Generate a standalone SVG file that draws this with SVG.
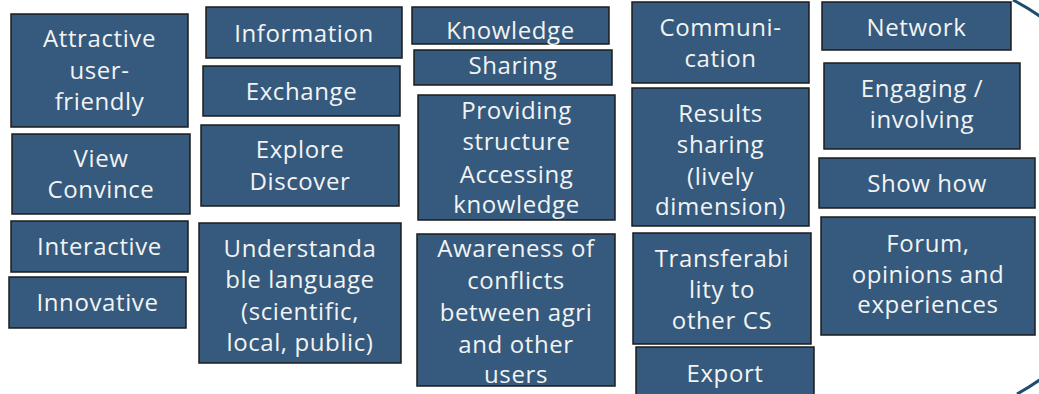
<svg xmlns="http://www.w3.org/2000/svg" width="1039" height="394" viewBox="0 0 1039 394">
<style>
.box{fill:#355a7d;stroke:#1c1c1c;stroke-width:1.5}
.t{font-family:"Open Sans","Liberation Sans",sans-serif;font-size:24px;letter-spacing:0.6px;fill:#f3f3f3;text-anchor:middle}
.arc{fill:none;stroke:#1d4e6e;stroke-width:3}
</style>
<rect width="1039" height="394" fill="#ffffff"/>
<g id="decor">
<path class="arc" d="M 1013 0 A 223 223 0 0 1 1017 394"/>
</g>
<g id="connectors"></g>
<g id="n-attractive"><rect class="box" x="11" y="14" width="177" height="113"/>
<text class="t" x="99.5" y="47">Attractive</text><text class="t" x="99.5" y="79">user-</text><text class="t" x="99.5" y="110">friendly</text></g>
<g id="n-view"><rect class="box" x="12" y="134" width="178" height="80"/>
<text class="t" x="101" y="167">View</text><text class="t" x="101" y="198">Convince</text></g>
<g id="n-interactive"><rect class="box" x="11" y="221" width="177" height="51"/>
<text class="t" x="99.5" y="255">Interactive</text></g>
<g id="n-innovative"><rect class="box" x="9" y="277" width="177" height="51"/>
<text class="t" x="97.5" y="311">Innovative</text></g>
<g id="n-information"><rect class="box" x="206" y="7" width="196" height="51"/>
<text class="t" x="304" y="42">Information</text></g>
<g id="n-exchange"><rect class="box" x="203" y="66" width="197" height="50"/>
<text class="t" x="301.5" y="100">Exchange</text></g>
<g id="n-explore"><rect class="box" x="201" y="125" width="198" height="81"/>
<text class="t" x="300" y="158">Explore</text><text class="t" x="300" y="190">Discover</text></g>
<g id="n-understandable"><rect class="box" x="199" y="223" width="202" height="140"/>
<text class="t" x="300" y="257">Understanda</text><text class="t" x="300" y="288">ble language</text><text class="t" x="300" y="320">(scientific,</text><text class="t" x="300" y="351">local, public)</text></g>
<g id="n-knowledge"><rect class="box" x="412" y="7" width="197" height="37"/>
<text class="t" x="510.5" y="39">Knowledge</text></g>
<g id="n-sharing"><rect class="box" x="414" y="50" width="198" height="35"/>
<text class="t" x="513" y="74">Sharing</text></g>
<g id="n-providing"><rect class="box" x="418" y="95" width="197" height="125"/>
<text class="t" x="516.5" y="119">Providing</text><text class="t" x="516.5" y="150">structure</text><text class="t" x="516.5" y="183">Accessing</text><text class="t" x="516.5" y="213">knowledge</text></g>
<g id="n-awareness"><rect class="box" x="417" y="234" width="198" height="152"/>
<text class="t" x="516" y="257">Awareness of</text><text class="t" x="516" y="289">conflicts</text><text class="t" x="516" y="321">between agri</text><text class="t" x="516" y="353">and other</text><text class="t" x="516" y="383">users</text></g>
<g id="n-communication"><rect class="box" x="632" y="2" width="177" height="81"/>
<text class="t" x="720.5" y="36">Communi-</text><text class="t" x="720.5" y="67">cation</text></g>
<g id="n-results"><rect class="box" x="632" y="88" width="177" height="138"/>
<text class="t" x="720.5" y="122">Results</text><text class="t" x="720.5" y="153">sharing</text><text class="t" x="720.5" y="185">(lively</text><text class="t" x="720.5" y="215">dimension)</text></g>
<g id="n-transferability"><rect class="box" x="633" y="233" width="178" height="111"/>
<text class="t" x="722" y="267">Transferabi</text><text class="t" x="722" y="298">lity to</text><text class="t" x="722" y="329">other CS</text></g>
<g id="n-export"><rect class="box" x="636" y="347" width="178" height="50"/>
<text class="t" x="725" y="382">Export</text></g>
<g id="n-network"><rect class="box" x="822" y="2" width="189" height="48"/>
<text class="t" x="916.5" y="36">Network</text></g>
<g id="n-engaging"><rect class="box" x="824" y="63" width="196" height="86"/>
<text class="t" x="922" y="97">Engaging /</text><text class="t" x="922" y="128">involving</text></g>
<g id="n-showhow"><rect class="box" x="819" y="158" width="216" height="50"/>
<text class="t" x="927" y="192">Show how</text></g>
<g id="n-forum"><rect class="box" x="821" y="217" width="214" height="118"/>
<text class="t" x="928" y="252">Forum,</text><text class="t" x="928" y="283">opinions and</text><text class="t" x="928" y="313">experiences</text></g>
</svg>
